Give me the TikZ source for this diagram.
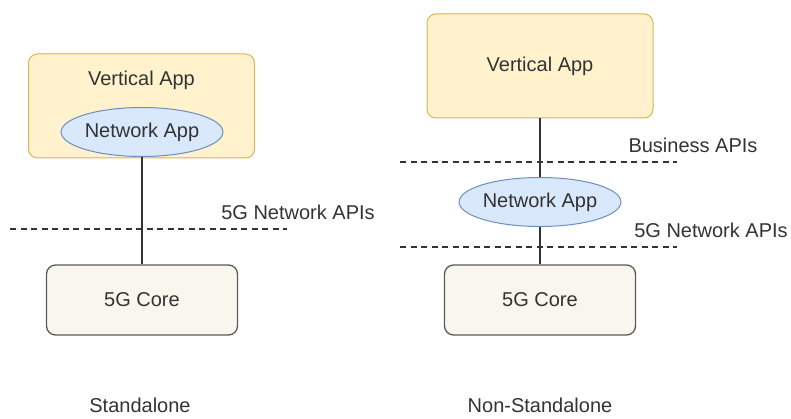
\documentclass[tikz,border=0pt]{standalone}
\usepackage{fontspec}
\setmainfont{Liberation Sans}
\usepackage{xcolor}
\usetikzlibrary{shapes.geometric, positioning}
\definecolor{app-fill}{HTML}{FFF2CC}
\definecolor{app-draw}{HTML}{D6B656}
\definecolor{net-fill}{HTML}{DAE8FC}
\definecolor{net-draw}{HTML}{6C8EBF}
\definecolor{core-fill}{HTML}{F9F7ED}
\definecolor{core-draw}{HTML}{5A5A5A}
\definecolor{text-color}{HTML}{333333}
\tikzset{
    appbox/.style={rectangle, rounded corners=9pt, draw=app-draw, fill=app-fill, line width=1pt, minimum width=226pt, minimum height=104pt, inner sep=0pt},
    corebox/.style={rectangle, rounded corners=9pt, draw=core-draw, fill=core-fill, line width=1.3pt, minimum width=191pt, minimum height=70pt, font=\fontsize{20}{24}\selectfont, text=text-color},
    netapp/.style={ellipse, draw=net-draw, fill=net-fill, line width=1pt, minimum width=142pt, minimum height=49pt, inner sep=0pt, font=\fontsize{20}{24}\selectfont, text=text-color},
    lbl/.style={font=\fontsize{20}{24}\selectfont, text=text-color, inner sep=1pt},
    apiline/.style={dashed, dash pattern=on 6pt off 4.5pt, line width=1.2pt, black!80},
    link/.style={line width=1.3pt, text-color}
}

\begin{document}
\begin{tikzpicture}[x=1pt, y=-1pt]
    \useasboundingbox (0,0) rectangle (791,419);

    % Standalone (left)
    \node[appbox] (vappL) at (141.5,106) {};
    \node[lbl] (vappLtxt) at (141.5,80) {Vertical App};
    \node[netapp] (netL) at (142,132) {Network App};
    \node[corebox] (coreL) at (142,300) {5G Core};
    \draw[link] (netL.south) -- (coreL.north);

    \coordinate (apiLa) at (10,229);
    \coordinate (apiLb) at (287,229);
    \draw[apiline] (apiLa) -- (apiLb);
    \node[lbl] (apiLtxt) at (298,212) {5G Network APIs};

    \node[lbl] (nameL) at (140,405) {Standalone};

    % Non-Standalone (right)
    \node[appbox, font=\fontsize{20}{24}\selectfont, text=text-color] (vappR) at (540,66) {Vertical App};
    \node[netapp] (netR) at (540,202) {Network App};
    \node[corebox] (coreR) at (540,300) {5G Core};
    \draw[link] (vappR.south) -- (netR.north);
    \draw[link] (netR.south) -- (coreR.north);

    \coordinate (bizRa) at (400,162);
    \coordinate (bizRb) at (677,162);
    \draw[apiline] (bizRa) -- (bizRb);
    \node[lbl] (bizRtxt) at (693,145) {Business APIs};

    \coordinate (apiRa) at (400,247);
    \coordinate (apiRb) at (677,247);
    \draw[apiline] (apiRa) -- (apiRb);
    \node[lbl] (apiRtxt) at (711,230) {5G Network APIs};

    \node[lbl] (nameR) at (540,405) {Non-Standalone};
\end{tikzpicture}
\end{document}
